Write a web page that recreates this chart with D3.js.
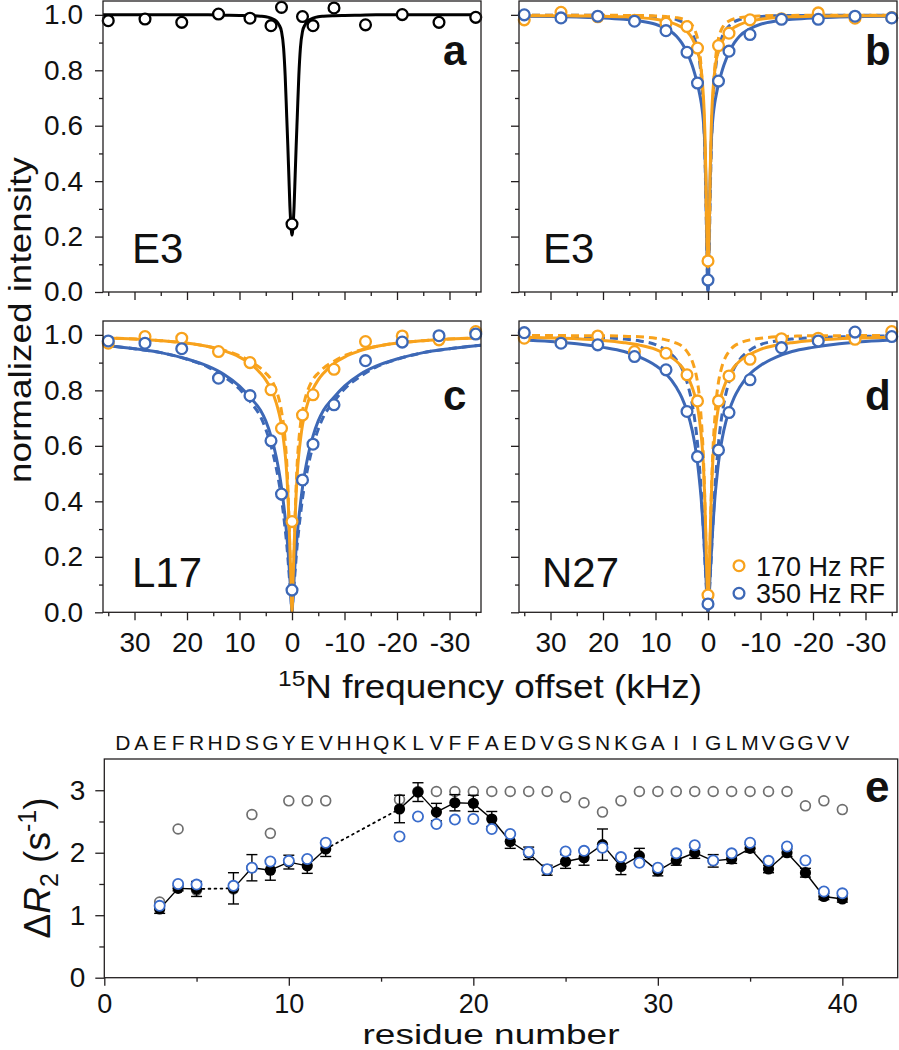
<!DOCTYPE html>
<html><head><meta charset="utf-8">
<script src="https://cdn.jsdelivr.net/npm/d3@7"></script>
<style>
body{margin:0;background:#fff}
svg{display:block}
text{font-family:"Liberation Sans",Arial,Helvetica,sans-serif;fill:#111}
</style>
</head><body>
<svg id="chart" width="899" height="1050"></svg>
<script>
// ---------- DATA: panels a-d (normalized intensity vs 15N offset, kHz) ----------
const pointOffsets = [35, 28, 21, 14, 8, 4, 2, 0, -2, -4, -8, -14, -21, -28, -35];
const aE3Points    = [0.979, 0.985, 0.973, 1.003, 0.988, 0.961, 1.027, 0.245, 0.994, 0.961, 1.025, 0.964, 1.001, 0.973, 0.991];
const bE3Orange    = [0.982, 1.009, 0.993, 0.980, 0.970, 0.958, 0.880, 0.112, 0.889, 0.934, 0.982, 0.986, 1.007, 0.988, 0.990];
const bE3Blue      = [1.000, 0.989, 0.995, 0.977, 0.943, 0.865, 0.754, 0.043, 0.761, 0.869, 0.929, 0.984, 0.984, 0.995, 0.989];
const cL17Orange   = [0.970, 0.994, 0.988, 0.940, 0.900, 0.802, 0.663, 0.327, 0.711, 0.784, 0.876, 0.976, 0.996, 0.982, 1.012];
const cL17Blue     = [0.978, 0.970, 0.950, 0.844, 0.781, 0.618, 0.426, 0.080, 0.477, 0.606, 0.748, 0.907, 0.974, 0.997, 1.003];
const dN27Orange   = [0.988, 0.975, 0.996, 0.940, 0.934, 0.856, 0.762, 0.062, 0.762, 0.852, 0.912, 0.986, 0.988, 0.984, 1.012];
const dN27Blue     = [1.008, 0.970, 0.964, 0.922, 0.874, 0.724, 0.561, 0.030, 0.585, 0.720, 0.838, 0.954, 0.978, 1.010, 0.994];

// fitted curves (symmetric about 0), values read at these |offset| positions (kHz)
const curveOffsets   = [0, 0.2, 0.4, 0.6, 0.8, 1, 1.3, 1.6, 2, 2.5, 3, 4, 5, 6, 8, 10, 13, 16, 20, 25, 30, 36];
const aFit           = [0.205,0.24,0.31,0.42,0.53,0.63,0.78,0.88,0.94,0.965,0.978,0.988,0.993,0.995,0.997,0.998,0.999,1,1,1,1,1];
const bBlueSolid     = [0.0,0.173,0.398,0.527,0.597,0.641,0.684,0.715,0.75,0.786,0.817,0.865,0.899,0.923,0.95,0.966,0.978,0.984,0.989,0.992,0.994,0.995];
const bBlueDashed    = [0.0,0.12,0.33,0.50,0.62,0.70,0.78,0.83,0.875,0.91,0.935,0.96,0.975,0.983,0.99,0.994,0.997,0.998,0.998,0.999,0.999,0.999];
const bOrangeSolid   = [0.09,0.20,0.42,0.58,0.68,0.74,0.80,0.84,0.87,0.895,0.915,0.94,0.955,0.965,0.977,0.984,0.99,0.993,0.995,0.996,0.997,0.997];
const bOrangeDashed  = [0.05,0.15,0.35,0.52,0.64,0.72,0.81,0.87,0.915,0.945,0.962,0.978,0.986,0.99,0.994,0.996,0.998,0.998,0.999,0.999,0.999,0.999];
const cOrangeSolid   = [0.0,0.12,0.23,0.34,0.43,0.50,0.57,0.62,0.675,0.72,0.755,0.805,0.838,0.862,0.897,0.92,0.943,0.958,0.97,0.979,0.985,0.99];
const cOrangeDashed  = [0.0,0.10,0.22,0.35,0.46,0.54,0.62,0.675,0.725,0.77,0.80,0.84,0.862,0.88,0.905,0.925,0.945,0.958,0.97,0.979,0.985,0.99];
const cBlueSolid     = [0.0,0.06,0.12,0.18,0.235,0.28,0.34,0.39,0.45,0.51,0.56,0.635,0.69,0.728,0.775,0.815,0.858,0.887,0.913,0.936,0.95,0.963];
const cBlueDashed    = [0.0,0.05,0.10,0.15,0.20,0.245,0.30,0.35,0.41,0.47,0.52,0.60,0.66,0.705,0.76,0.805,0.85,0.884,0.912,0.936,0.95,0.963];
const dOrangeSolid   = [0.02,0.12,0.27,0.40,0.50,0.57,0.64,0.69,0.74,0.78,0.81,0.855,0.885,0.905,0.93,0.948,0.963,0.972,0.98,0.986,0.989,0.992];
const dOrangeDashed  = [0.0,0.10,0.25,0.40,0.52,0.61,0.70,0.77,0.83,0.875,0.905,0.94,0.96,0.97,0.982,0.988,0.993,0.995,0.997,0.997,0.998,0.998];
const dBlueSolid     = [0.0,0.06,0.13,0.20,0.27,0.33,0.41,0.47,0.54,0.605,0.655,0.725,0.775,0.81,0.86,0.89,0.92,0.94,0.955,0.968,0.976,0.982];
const dBlueDashed    = [0.0,0.05,0.12,0.19,0.27,0.34,0.44,0.52,0.61,0.69,0.75,0.83,0.88,0.91,0.945,0.965,0.978,0.985,0.99,0.993,0.995,0.996];

const xMajorTicks = [30, 20, 10, 0, -10, -20, -30];
const xMinorTicks = [35, 25, 15, 5, -5, -15, -25, -35];
const yMajorTicks = [0, 0.2, 0.4, 0.6, 0.8, 1.0];
const yMinorTicks = [0.1, 0.3, 0.5, 0.7, 0.9];
const legendLabels = ["170 Hz RF", "350 Hz RF"];

// ---------- DATA: panel e (ΔR2 vs residue) ----------
const sequence = "DAEFRHDSGYEVHHQKLVFFAEDVGSNKGAIIGLMVGGVV";
const hydrophobicResidues = [2,4,12,17,18,19,20,21,24,30,31,32,34,35,36,39,40];
const residues  = [3,4,5,7,8,9,10,11,12,16,17,18,19,20,21,22,23,24,25,26,27,28,29,30,31,32,33,34,35,36,37,38,39,40];
const dR2Black  = [1.10,1.43,1.42,1.43,1.76,1.72,1.85,1.79,2.06,2.70,2.97,2.65,2.80,2.79,2.54,2.18,1.99,1.72,1.86,1.92,2.13,1.78,1.95,1.71,1.88,2.00,1.87,1.90,2.07,1.74,2.00,1.68,1.30,1.26];
const dR2Err    = [0.07,0.04,0.12,0.25,0.21,0.16,0.11,0.12,0.12,0.22,0.15,0.14,0.13,0.13,0.12,0.11,0.10,0.08,0.11,0.12,0.25,0.13,0.12,0.08,0.08,0.09,0.10,0.07,0.06,0.06,0.06,0.07,0.05,0.05];
const dR2Blue   = [1.15,1.50,1.49,1.47,1.76,1.86,1.87,1.90,2.16,2.26,2.58,2.46,2.53,2.54,2.38,2.30,2.01,1.735,2.02,2.03,2.08,1.93,1.84,1.76,1.99,2.12,1.875,1.99,2.16,1.87,2.10,1.875,1.38,1.35];
const dR2Gray   = [1.21,2.38,1.40,1.42,2.61,2.31,2.83,2.83,2.83,2.85,2.98,2.98,2.98,2.98,2.98,2.98,2.98,2.98,2.89,2.80,2.65,2.83,2.98,2.98,2.98,2.98,2.98,2.98,2.98,2.98,2.98,2.75,2.83,2.69];
const eXMajorTicks = [0, 10, 20, 30, 40];
const eXMinorTicks = [5, 15, 25, 35];
const eYMajorTicks = [0, 1, 2, 3];
const eYMinorTicks = [0.5, 1.5, 2.5];

// ---------- STYLE ----------
const ORANGE = "#F8A21C", BLUE = "#3D68B6", EBLUE = "#3A6CCB", GREEN = "#1F9140", AXIS = "#231F20";
const FONT_TICK = 28;

const svg = d3.select("#chart");

function styleAxis(g, fontSize){
  g.select(".domain").remove();
  g.selectAll(".tick line").attr("stroke", AXIS).attr("stroke-width", 1.3);
  g.selectAll(".tick text").attr("font-size", fontSize).attr("fill", "#111")
    .attr("font-family", '"Liberation Sans",Arial,sans-serif');
}

function mirrorCurve(vals){
  const left = curveOffsets.map((o,i)=>[o, vals[i]]).reverse();
  const right = curveOffsets.slice(1).map((o,i)=>[-o, vals[i+1]]);
  return left.concat(right);
}

const panels = [
  {id:"a", x0:103, x1:481, y0:1, y1:292, xLab:false, yLab:true, name:"E3", nameDx:29, nameY:263,
   curves:[{v:aFit, c:"#000", dash:null}], pts:[{v:aE3Points, c:"#000"}]},
  {id:"b", x0:519, x1:897, y0:1, y1:292, xLab:false, yLab:false, name:"E3", nameDx:24, nameY:263,
   curves:[{v:bBlueDashed,c:BLUE,dash:"8,5"},{v:bOrangeDashed,c:ORANGE,dash:"8,5"},{v:bBlueSolid,c:BLUE},{v:bOrangeSolid,c:ORANGE}],
   pts:[{v:bE3Orange,c:ORANGE},{v:bE3Blue,c:BLUE}]},
  {id:"c", x0:103, x1:481, y0:321, y1:612.3, xLab:true, yLab:true, name:"L17", nameDx:29, nameY:587,
   curves:[{v:cBlueDashed,c:BLUE,dash:"8,5"},{v:cOrangeDashed,c:ORANGE,dash:"8,5"},{v:cBlueSolid,c:BLUE},{v:cOrangeSolid,c:ORANGE}],
   pts:[{v:cL17Orange,c:ORANGE},{v:cL17Blue,c:BLUE}]},
  {id:"d", x0:519, x1:897, y0:321, y1:612.3, xLab:true, yLab:false, name:"N27", nameDx:23, nameY:587, legend:true,
   curves:[{v:dBlueDashed,c:BLUE,dash:"8,5"},{v:dOrangeDashed,c:ORANGE,dash:"8,5"},{v:dBlueSolid,c:BLUE},{v:dOrangeSolid,c:ORANGE}],
   pts:[{v:dN27Orange,c:ORANGE},{v:dN27Blue,c:BLUE}]}
];

const defs = svg.append("defs");

panels.forEach(p=>{
  const x = d3.scaleLinear().domain([36,-36]).range([p.x0,p.x1]);
  const y = d3.scaleLinear().domain([0,1.05]).range([p.y1,p.y0]);
  const g = svg.append("g");

  defs.append("clipPath").attr("id","clip-"+p.id).append("rect")
    .attr("x",p.x0).attr("y",p.y0).attr("width",p.x1-p.x0).attr("height",p.y1-p.y0);

  const fmtX = d=>String(d);
  const gx = g.append("g").attr("transform",`translate(0,${p.y1})`)
    .call(d3.axisBottom(x).tickValues(xMajorTicks).tickSize(8).tickPadding(12).tickFormat(p.xLab?fmtX:()=>""));
  styleAxis(gx, FONT_TICK);
  const gx2 = g.append("g").attr("transform",`translate(0,${p.y1})`)
    .call(d3.axisBottom(x).tickValues(xMinorTicks).tickSize(4).tickFormat(()=>""));
  styleAxis(gx2, FONT_TICK);
  const gy = g.append("g").attr("transform",`translate(${p.x0},0)`)
    .call(d3.axisLeft(y).tickValues(yMajorTicks).tickSize(8).tickPadding(12).tickFormat(p.yLab?d3.format(".1f"):()=>""));
  styleAxis(gy, FONT_TICK);
  const gy2 = g.append("g").attr("transform",`translate(${p.x0},0)`)
    .call(d3.axisLeft(y).tickValues(yMinorTicks).tickSize(4).tickFormat(()=>""));
  styleAxis(gy2, FONT_TICK);

  const line = d3.line().x(d=>x(d[0])).y(d=>y(d[1])).curve(d3.curveMonotoneX);
  const cg = g.append("g").attr("clip-path",`url(#clip-${p.id})`);
  p.curves.forEach(c=>{
    cg.append("path").attr("d", line(mirrorCurve(c.v)))
      .attr("fill","none").attr("stroke",c.c).attr("stroke-width",3)
      .attr("stroke-dasharray", c.dash||null).attr("stroke-linejoin","round");
  });

  p.pts.forEach(s=>{
    g.append("g").selectAll("circle").data(pointOffsets.map((o,i)=>[o,s.v[i]])).join("circle")
      .attr("cx",d=>x(d[0])).attr("cy",d=>y(d[1])).attr("r",5.4)
      .attr("fill","#fff").attr("stroke",s.c).attr("stroke-width",2.3);
  });

  g.append("rect").attr("x",p.x0).attr("y",p.y0).attr("width",p.x1-p.x0).attr("height",p.y1-p.y0)
    .attr("fill","none").attr("stroke",AXIS).attr("stroke-width",1.3);

  g.append("text").attr("x",p.x0+p.nameDx).attr("y",p.nameY).attr("font-size",42).text(p.name);
  g.append("text").attr("x",p.x0 + (p.id==="a"||p.id==="c"?340:346)).attr("y",p.id==="a"||p.id==="b"?65:410)
    .attr("font-size",42).attr("font-weight","bold").attr("fill","#000").text(p.id);

  if(p.legend){
    [ORANGE,BLUE].forEach((c,i)=>{
      const ly = 565.7 + i*27.6;
      g.append("circle").attr("cx",739).attr("cy",ly).attr("r",5.4).attr("fill","#fff").attr("stroke",c).attr("stroke-width",2.3);
      g.append("text").attr("x",756).attr("y",ly+10).attr("font-size",27).text(legendLabels[i]);
    });
  }
});

// axis titles for a-d
svg.append("text").attr("transform","translate(31,320) rotate(-90)").attr("text-anchor","middle")
  .attr("font-size",32).attr("textLength",326).attr("lengthAdjust","spacingAndGlyphs").text("normalized intensity");
const xt = svg.append("text").attr("x",490).attr("y",698).attr("text-anchor","middle").attr("font-size",33)
  .attr("textLength",424).attr("lengthAdjust","spacingAndGlyphs");
xt.append("tspan").attr("font-size",22).attr("dy",-12).text("15");
xt.append("tspan").attr("dy",12).text("N frequency offset (kHz)");

// ---------- panel e ----------
(function(){
  const x0=104.3, x1=897.7, y0=759, y1=977.7;
  const x = d3.scaleLinear().domain([0,43]).range([x0,x1]);
  const y = d3.scaleLinear().domain([0,3.5]).range([y1,y0]);
  const g = svg.append("g");

  const gx = g.append("g").attr("transform",`translate(0,${y1})`)
    .call(d3.axisBottom(x).tickValues(eXMajorTicks).tickSize(8).tickPadding(8).tickFormat(d=>String(d)));
  styleAxis(gx, 27);
  const gx2 = g.append("g").attr("transform",`translate(0,${y1})`)
    .call(d3.axisBottom(x).tickValues(eXMinorTicks).tickSize(4).tickFormat(()=>""));
  styleAxis(gx2, FONT_TICK);
  const gy = g.append("g").attr("transform",`translate(${x0},0)`)
    .call(d3.axisLeft(y).tickValues(eYMajorTicks).tickSize(9).tickPadding(10).tickFormat(d=>String(d)));
  styleAxis(gy, FONT_TICK);
  const gy2 = g.append("g").attr("transform",`translate(${x0},0)`)
    .call(d3.axisLeft(y).tickValues(eYMinorTicks).tickSize(5).tickFormat(()=>""));
  styleAxis(gy2, FONT_TICK);

  g.append("g").selectAll("circle").data(residues.map((r,i)=>[r,dR2Gray[i]])).join("circle")
    .attr("cx",d=>x(d[0])).attr("cy",d=>y(d[1])).attr("r",4.9)
    .attr("fill","#fff").attr("stroke","#6f6f6f").attr("stroke-width",1.7);

  for(let i=0;i<residues.length-1;i++){
    const gap = residues[i+1]-residues[i] > 1;
    g.append("line").attr("x1",x(residues[i])).attr("y1",y(dR2Black[i]))
      .attr("x2",x(residues[i+1])).attr("y2",y(dR2Black[i+1]))
      .attr("stroke","#000").attr("stroke-width",gap?1.8:1.4)
      .attr("stroke-dasharray",gap?"1.8,4.2":null).attr("stroke-linecap",gap?"round":"butt");
  }
  const eb = g.append("g").attr("stroke","#000").attr("stroke-width",1.4);
  residues.forEach((r,i)=>{
    const cx=x(r), yt=y(dR2Black[i]+dR2Err[i]), yb=y(dR2Black[i]-dR2Err[i]);
    eb.append("line").attr("x1",cx).attr("x2",cx).attr("y1",yt).attr("y2",yb);
    eb.append("line").attr("x1",cx-5.5).attr("x2",cx+5.5).attr("y1",yt).attr("y2",yt);
    eb.append("line").attr("x1",cx-5.5).attr("x2",cx+5.5).attr("y1",yb).attr("y2",yb);
  });
  g.append("g").selectAll("circle").data(residues.map((r,i)=>[r,dR2Black[i]])).join("circle")
    .attr("cx",d=>x(d[0])).attr("cy",d=>y(d[1])).attr("r",5.6).attr("fill","#000");
  g.append("g").selectAll("circle").data(residues.map((r,i)=>[r,dR2Blue[i]])).join("circle")
    .attr("cx",d=>x(d[0])).attr("cy",d=>y(d[1])).attr("r",5.1)
    .attr("fill","#fff").attr("stroke",EBLUE).attr("stroke-width",1.8);

  g.append("rect").attr("x",x0).attr("y",y0).attr("width",x1-x0).attr("height",y1-y0)
    .attr("fill","none").attr("stroke",AXIS).attr("stroke-width",1.3);

  g.append("g").selectAll("text").data(sequence.split("")).join("text")
    .attr("x",(d,i)=>x(i+1)).attr("y",750).attr("text-anchor","middle").attr("font-size",21)
    .attr("fill",(d,i)=>hydrophobicResidues.includes(i+1)?GREEN:"#111").text(d=>d);

  g.append("text").attr("x",865).attr("y",802).attr("font-size",44).attr("font-weight","bold").attr("fill","#000").text("e");

  g.append("text").attr("x",491).attr("y",1044).attr("text-anchor","middle").attr("font-size",28)
    .attr("textLength",257).attr("lengthAdjust","spacingAndGlyphs").text("residue number");

  const yl = g.append("text").attr("transform","translate(50,868) rotate(-90)").attr("text-anchor","middle").attr("font-size",37);
  yl.append("tspan").text("Δ");
  yl.append("tspan").attr("font-style","italic").text("R");
  yl.append("tspan").attr("font-size",25).attr("dy",8).text("2");
  yl.append("tspan").attr("dy",-8).text(" (s");
  yl.append("tspan").attr("font-size",25).attr("dy",-14).text("-1");
  yl.append("tspan").attr("dy",14).text(")");
})();
</script>
</body></html>
